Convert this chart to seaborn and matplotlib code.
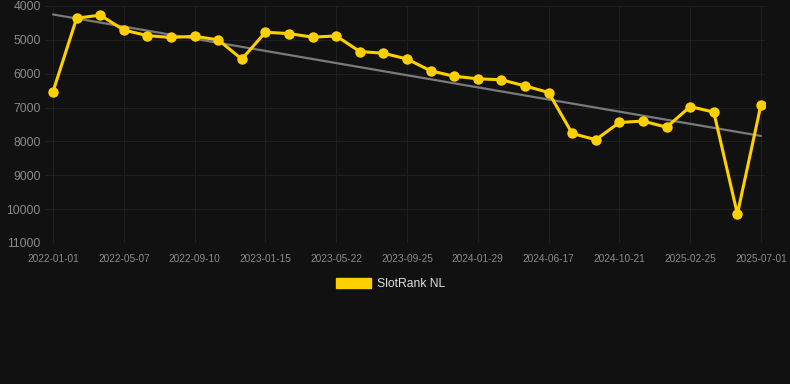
import matplotlib
matplotlib.use("Agg")
import matplotlib.pyplot as plt
import matplotlib.patches as mpatches
import seaborn as sns
import numpy as np
import pandas as pd

# Data
dates = ["2022-01-01", "", "", "2022-05-07", "", "", "2022-09-10", "", "",
         "2023-01-15", "", "", "2023-05-22", "", "", "2023-09-25", "", "",
         "2024-01-29", "", "", "2024-06-17", "", "", "2024-10-21", "", "",
         "2025-02-25", "", "", "2025-07-01"]
ranks = [6530, 4360, 4270, 4710, 4875, 4930, 4895, 5000, 5570, 4775,
         4815, 4920, 4885, 5345, 5395, 5565, 5915, 6075, 6150, 6180,
         6360, 6555, 7765, 7950, 7440, 7400, 7580, 6970, 7135, 10145, 6910]
series_name = "SlotRank NL"
yticks = [4000, 5000, 6000, 7000, 8000, 9000, 10000, 11000]

BG = "#111111"
GOLD = "#FFD000"
GRID = "#1f1f1f"
TICK = "#8a8a8a"

df = pd.DataFrame({"idx": np.arange(len(ranks)), "rank": ranks})

sns.set_style("dark")
plt.rcParams["font.family"] = ["Liberation Sans", "DejaVu Sans"]

fig = plt.figure(figsize=(7.9, 3.84), dpi=100, facecolor=BG)
ax = fig.add_axes([45 / 790, 1 - 243 / 384, 720 / 790, 237 / 384])
ax.set_facecolor(BG)

sns.regplot(data=df, x="idx", y="rank", scatter=False, ci=None, ax=ax,
            line_kws={"color": "#7a7a7a", "linewidth": 1.6, "zorder": 2})
sns.lineplot(data=df, x="idx", y="rank", ax=ax, color=GOLD, linewidth=2.2,
             marker="o", markersize=7.5, markeredgewidth=0, zorder=3)

ax.set_xlim(-0.34, 30.17)
ax.set_ylim(11000, 4000)
ax.set_yticks(yticks)
ax.set_yticklabels([str(t) for t in yticks], color=TICK, fontsize=8.7)
tick_pos = [i for i, d in enumerate(dates) if d]
ax.set_xticks(tick_pos)
ax.set_xticklabels([dates[i] for i in tick_pos], color=TICK, fontsize=7.3)
ax.tick_params(axis="both", length=0, pad=3)
ax.tick_params(axis="x", pad=8)
ax.set_xlabel("")
ax.set_ylabel("")
ax.grid(True, color=GRID, linewidth=0.8)
for s in ax.spines.values():
    s.set_visible(False)

handle = mpatches.Patch(facecolor=GOLD, edgecolor=GOLD, label=series_name)
leg = fig.legend(handles=[handle], loc="center", bbox_to_anchor=(391 / 790, 1 - 284 / 384),
                 frameon=False, fontsize=8.7, handlelength=2.9, handleheight=0.9,
                 handletextpad=0.5)
for t in leg.get_texts():
    t.set_color("#dddddd")

fig.savefig("out.png", dpi=100, facecolor=BG)
